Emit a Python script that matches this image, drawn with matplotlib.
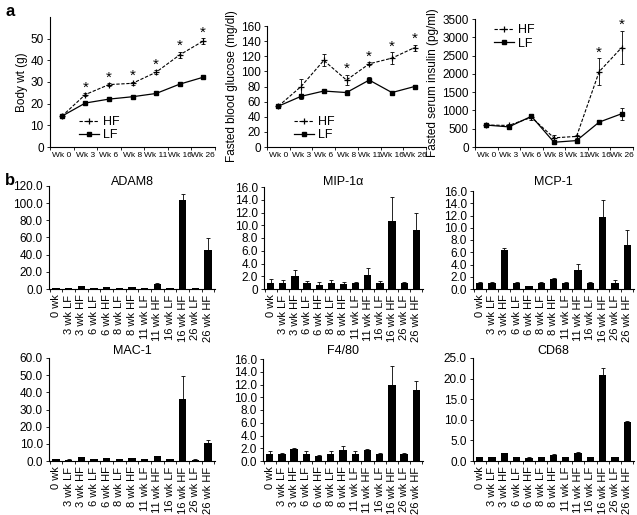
import numpy as np
import matplotlib
matplotlib.use('Agg')
import matplotlib.pyplot as plt

plt.rcParams['font.family'] = ['Liberation Sans', 'DejaVu Sans']

weeks = ['Wk 0', 'Wk 3', 'Wk 6', 'Wk 8', 'Wk 11', 'Wk 16', 'Wk 26']

wt_hf = [14.2, 24.2, 28.8, 29.4, 34.5, 42.5, 48.9]
wt_hf_err = [0.5, 0.6, 0.7, 0.8, 0.9, 1.5, 1.2]
wt_lf = [14.2, 20.3, 22.1, 23.2, 24.7, 29.0, 32.2]
wt_lf_err = [0.3, 0.4, 0.4, 0.4, 0.4, 0.5, 0.5]
wt_stars = [1, 2, 3, 4, 5, 6]

glu_hf = [54, 80, 114.5, 88.5, 110, 117.5, 131.5]
glu_hf_err = [2, 9.5, 8, 7, 2, 7.5, 4]
glu_lf = [54, 67, 74, 72, 88.5, 72, 80]
glu_lf_err = [2, 3, 2, 3, 4, 2, 2]
glu_stars = [3, 4, 5, 6]

ins_hf = [600, 590, 810, 250, 290, 2060, 2720]
ins_hf_err = [40, 40, 60, 70, 50, 370, 460]
ins_lf = [600, 550, 840, 130, 175, 680, 910]
ins_lf_err = [40, 50, 60, 40, 30, 50, 170]
ins_stars = [5, 6]

groups = ['0 wk', '3 wk LF', '3 wk HF', '6 wk LF', '6 wk HF', '8 wk LF', '8 wk HF',
          '11 wk LF', '11 wk HF', '16 wk LF', '16 wk HF', '26 wk LF', '26 wk HF']

adam8 = [1.0, 1.0, 3.0, 1.0, 2.4, 1.0, 2.0, 1.0, 6.3, 1.0, 103.5, 1.0, 46.0]
adam8_err = [0.2, 0.2, 0.4, 0.2, 0.3, 0.2, 0.3, 0.2, 0.6, 0.2, 7.5, 0.2, 13.5]
mip1a = [1.0, 1.0, 2.0, 1.0, 0.65, 1.0, 0.85, 1.0, 2.25, 1.0, 10.6, 1.0, 9.2]
mip1a_err = [0.6, 0.35, 1.0, 0.3, 0.4, 0.35, 0.2, 0.15, 1.1, 0.25, 3.8, 0.15, 2.7]
mcp1 = [1.0, 1.0, 6.4, 1.0, 0.45, 1.0, 1.65, 1.0, 3.05, 1.0, 11.8, 1.0, 7.15]
mcp1_err = [0.1, 0.1, 0.3, 0.1, 0.05, 0.1, 0.1, 0.1, 1.1, 0.15, 2.8, 0.5, 2.55]
mac1 = [1.0, 0.8, 2.3, 0.9, 1.5, 1.0, 1.7, 0.9, 2.8, 0.9, 36.1, 0.8, 10.7]
mac1_err = [0.1, 0.1, 0.2, 0.1, 0.2, 0.1, 0.2, 0.1, 0.3, 0.1, 13.5, 0.1, 1.3]
f480 = [1.05, 1.1, 1.85, 1.05, 0.8, 1.05, 1.75, 1.05, 1.8, 1.05, 12.0, 1.1, 11.2]
f480_err = [0.45, 0.15, 0.25, 0.45, 0.1, 0.45, 0.55, 0.45, 0.05, 0.2, 2.9, 0.15, 1.35]
cd68 = [1.0, 1.0, 1.9, 1.0, 0.8, 1.0, 1.5, 1.0, 2.0, 1.0, 20.9, 1.0, 9.4]
cd68_err = [0.05, 0.05, 0.1, 0.05, 0.05, 0.05, 0.1, 0.05, 0.1, 0.05, 1.7, 0.05, 0.3]

W, H = 637, 515
fig = plt.figure(figsize=(W / 100, H / 100), dpi=100)


def box(left, right, top, bottom):
    return [left / W, 1 - bottom / H, (right - left) / W, (bottom - top) / H]


def style(ax, n):
    for s in ['top', 'right']:
        ax.spines[s].set_visible(False)
    for s in ['left', 'bottom']:
        ax.spines[s].set_linewidth(0.8)
    ax.set_xticks(np.arange(n))
    ax.set_xticks(np.arange(n + 1) - 0.5, minor=True)
    ax.tick_params(axis='x', which='major', length=0)
    ax.tick_params(axis='x', which='minor', length=2.5, width=0.6, direction='out')
    ax.tick_params(axis='y', length=2.5, width=0.6, direction='out', labelsize=8.5, pad=2)


def line_panel(rect, hf, hf_err, lf, lf_err, stars, ylim, yticks, ylabel, leg):
    ax = fig.add_axes(rect)
    x = np.arange(len(weeks))
    ax.errorbar(x, hf, yerr=hf_err, fmt='none', ecolor='k',
                capsize=1.5, elinewidth=0.6, capthick=0.6)
    ax.errorbar(x, lf, yerr=lf_err, fmt='none', ecolor='k',
                capsize=1.5, elinewidth=0.6, capthick=0.6)
    ax.plot(x, hf, color='k', ls='--', lw=0.8, marker='+', ms=4, mew=0.9,
            dashes=(3, 1.5), label='HF')
    ax.plot(x, lf, color='k', ls='-', lw=0.9, marker='s', ms=3, label='LF')
    for i in stars:
        ax.annotate('*', (x[i], hf[i] + hf_err[i]), xytext=(0, -1), textcoords='offset points',
                    ha='center', va='bottom', fontsize=11)
    style(ax, len(weeks))
    ax.set_xlim(-0.5, 6.5)
    ax.set_ylim(*ylim)
    ax.set_yticks(yticks)
    ax.set_xticklabels(weeks, fontsize=6)
    ax.set_ylabel(ylabel, fontsize=8.5, labelpad=2)
    ax.legend(loc='center left', bbox_to_anchor=leg, frameon=False, fontsize=9,
              handlelength=1.6, handletextpad=0.3, labelspacing=0.1, borderpad=0)
    return ax


def bar_panel(rect, vals, errs, ylim, yticks, title, title_y, zero_label='0.0'):
    ax = fig.add_axes(rect)
    x = np.arange(len(groups))
    ax.bar(x, vals, width=0.6, color='k', zorder=2)
    ax.errorbar(x, vals, yerr=[np.zeros(len(vals)), errs], fmt='none', ecolor='k',
                elinewidth=0.6, capsize=1.5, capthick=0.6, zorder=1)
    style(ax, len(groups))
    ax.set_xlim(-0.55, 12.55)
    ax.set_ylim(*ylim)
    ax.set_yticks(yticks)
    labels = ['%.1f' % v for v in yticks]
    labels[0] = zero_label
    ax.set_yticklabels(labels)
    ax.set_xticklabels(groups, rotation=90, fontsize=8)
    ax.tick_params(axis='x', which='major', pad=4)
    pos = ax.get_position()
    fig.text(pos.x0 + pos.width / 2, 1 - title_y / H, title, ha='center', va='center', fontsize=9)
    return ax


line_panel(box(50, 215, 17, 147), wt_hf, wt_hf_err, wt_lf, wt_lf_err, wt_stars,
           (0, 60), np.arange(0, 51, 10), 'Body wt (g)', (0.14, 0.14))
line_panel(box(267, 426, 26, 147), glu_hf, glu_hf_err, glu_lf, glu_lf_err, glu_stars,
           (0, 160), np.arange(0, 161, 20), 'Fasted blood glucose (mg/dl)', (0.13, 0.15))
line_panel(box(475, 633, 19, 147), ins_hf, ins_hf_err, ins_lf, ins_lf_err, ins_stars,
           (0, 3500), np.arange(0, 3501, 500), 'Fasted serum insulin (pg/ml)', (0.08, 0.86))

bar_panel(box(49, 215, 186, 289), adam8, adam8_err, (0, 120), np.arange(0, 121, 20), 'ADAM8', 182)
bar_panel(box(264, 423, 187, 289), mip1a, mip1a_err, (0, 16), np.arange(0, 17, 2), 'MIP-1\u03b1', 182, '0')
bar_panel(box(473, 634, 191, 289), mcp1, mcp1_err, (0, 16), np.arange(0, 17, 2), 'MCP-1', 182)
bar_panel(box(49, 215, 358, 461), mac1, mac1_err, (0, 60), np.arange(0, 61, 10), 'MAC-1', 351)
bar_panel(box(263, 423, 359, 461), f480, f480_err, (0, 16), np.arange(0, 17, 2), 'F4/80', 351)
bar_panel(box(473, 634, 358, 461), cd68, cd68_err, (0, 25), np.arange(0, 26, 5), 'CD68', 351)

fig.text(5 / W, 1 - 11 / H, 'a', fontsize=12, fontweight='bold', va='center')
fig.text(5 / W, 1 - 181 / H, 'b', fontsize=12, fontweight='bold', va='center')

fig.savefig('out.png', dpi=100)
